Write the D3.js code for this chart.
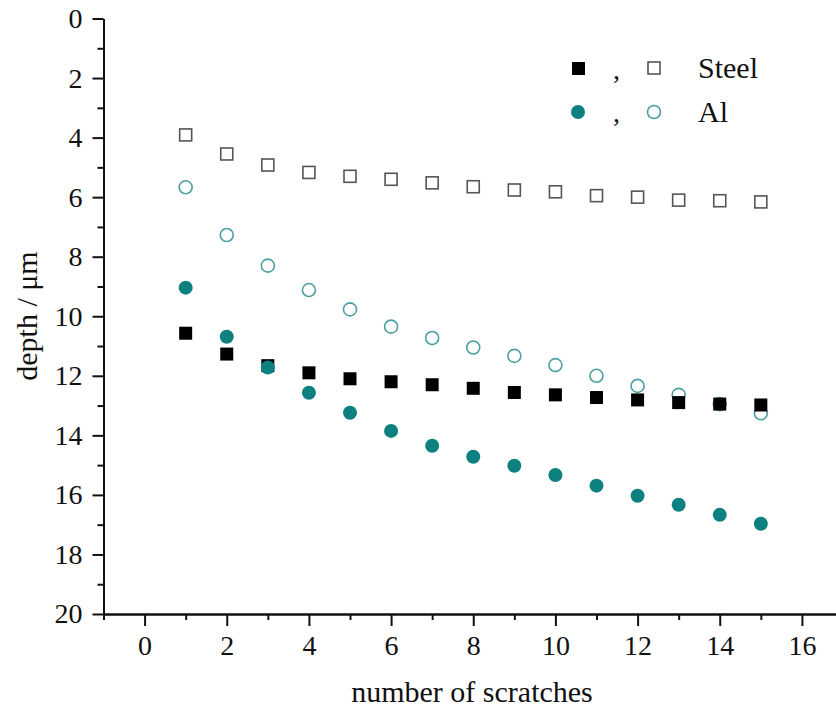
<!DOCTYPE html>
<html>
<head>
<meta charset="utf-8">
<title>depth vs number of scratches</title>
<script src="https://d3js.org/d3.v7.min.js"></script>
<style>
  body { margin: 0; background: #fff; }
</style>
</head>
<body>
<div id="home"></div>
<script>
// data
const scratches = [1, 2, 3, 4, 5, 6, 7, 8, 9, 10, 11, 12, 13, 14, 15];
const steelOpen = [3.91, 4.55, 4.92, 5.17, 5.30, 5.40, 5.52, 5.65, 5.76, 5.82, 5.95, 6.00, 6.10, 6.12, 6.16];
const steelFilled = [10.57, 11.27, 11.66, 11.90, 12.10, 12.20, 12.30, 12.42, 12.56, 12.64, 12.73, 12.81, 12.90, 12.95, 12.98];
const alOpen = [5.67, 7.27, 8.30, 9.12, 9.77, 10.35, 10.73, 11.05, 11.33, 11.64, 12.00, 12.34, 12.64, 12.95, 13.26];
const alFilled = [9.04, 10.69, 11.72, 12.57, 13.24, 13.85, 14.35, 14.72, 15.02, 15.33, 15.69, 16.03, 16.33, 16.67, 16.97];
const xMajor = [0, 2, 4, 6, 8, 10, 12, 14, 16];
const xMinor = [-1, 1, 3, 5, 7, 9, 11, 13, 15, 17];
const yMajor = [0, 2, 4, 6, 8, 10, 12, 14, 16, 18, 20];
const yMinor = [1, 3, 5, 7, 9, 11, 13, 15, 17, 19];

const w = 836, h = 711;
const teal = "#0f8080";
const tealLight = "#4e9f9f";
const serif = "'Liberation Serif', 'Times New Roman', Times, serif";

const svg = d3.select("#home").append("svg")
  .attr("width", w).attr("height", h)
  .attr("font-family", serif);

const x = d3.scaleLinear().domain([-1, 17]).range([103.5, 843]);
const y = d3.scaleLinear().domain([0, 20]).range([18.5, 614]);

// axes
function styleAxis(g) {
  g.attr("font-family", serif).attr("font-size", 28);
  g.select(".domain").attr("stroke", "#111").attr("stroke-width", 2);
  g.selectAll(".tick line").attr("stroke", "#111").attr("stroke-width", 2);
  g.selectAll(".tick text").attr("fill", "#111");
}

svg.append("g")
  .attr("transform", "translate(0,614)")
  .call(d3.axisBottom(x).tickValues(xMinor).tickSize(6).tickSizeOuter(0).tickFormat(""))
  .call(styleAxis);
svg.append("g")
  .attr("transform", "translate(0,614)")
  .call(d3.axisBottom(x).tickValues(xMajor).tickSize(12).tickSizeOuter(0).tickPadding(9))
  .call(styleAxis);

svg.append("g")
  .attr("transform", "translate(103.5,0)")
  .call(d3.axisLeft(y).tickValues(yMinor).tickSize(6).tickSizeOuter(0).tickFormat(""))
  .call(styleAxis);
svg.append("g")
  .attr("transform", "translate(103.5,0)")
  .call(d3.axisLeft(y).tickValues(yMajor).tickSize(11).tickSizeOuter(0).tickPadding(10))
  .call(styleAxis);

// axis titles
svg.append("text")
  .attr("x", 472).attr("y", 702)
  .attr("text-anchor", "middle")
  .attr("font-size", 30).attr("fill", "#111")
  .text("number of scratches");

svg.append("text")
  .attr("transform", "translate(37,316) rotate(-90)")
  .attr("text-anchor", "middle")
  .attr("font-size", 30).attr("fill", "#111")
  .text("depth / μm");

// points
const sq = 13, r = 7;

svg.append("g").selectAll("rect")
  .data(scratches.map((s, i) => [s, steelOpen[i]]))
  .join("rect")
  .attr("x", d => x(d[0]) - 6).attr("y", d => y(d[1]) - 6)
  .attr("width", 12).attr("height", 12)
  .attr("fill", "none").attr("stroke", "#555").attr("stroke-width", 1.6);

svg.append("g").selectAll("circle")
  .data(scratches.map((s, i) => [s, alOpen[i]]))
  .join("circle")
  .attr("cx", d => x(d[0])).attr("cy", d => y(d[1])).attr("r", 6.5)
  .attr("fill", "none").attr("stroke", tealLight).attr("stroke-width", 1.6);

svg.append("g").selectAll("rect")
  .data(scratches.map((s, i) => [s, steelFilled[i]]))
  .join("rect")
  .attr("x", d => x(d[0]) - sq / 2).attr("y", d => y(d[1]) - sq / 2)
  .attr("width", sq).attr("height", sq)
  .attr("fill", "#000");

svg.append("g").selectAll("circle")
  .data(scratches.map((s, i) => [s, alFilled[i]]))
  .join("circle")
  .attr("cx", d => x(d[0])).attr("cy", d => y(d[1])).attr("r", r)
  .attr("fill", teal);

// legend
const leg = svg.append("g").attr("fill", "#111");
leg.append("rect").attr("x", 572).attr("y", 62).attr("width", 13).attr("height", 13).attr("fill", "#000");
leg.append("text").attr("x", 613).attr("y", 79).attr("font-size", 28).text(",");
leg.append("rect").attr("x", 648).attr("y", 62).attr("width", 12).attr("height", 12)
  .attr("fill", "none").attr("stroke", "#555").attr("stroke-width", 1.6);
leg.append("text").attr("x", 698).attr("y", 78).attr("font-size", 30).text("Steel");

leg.append("circle").attr("cx", 578).attr("cy", 112).attr("r", r).attr("fill", teal);
leg.append("text").attr("x", 613).attr("y", 122).attr("font-size", 28).text(",");
leg.append("circle").attr("cx", 654).attr("cy", 112).attr("r", 6.5)
  .attr("fill", "none").attr("stroke", tealLight).attr("stroke-width", 1.6);
leg.append("text").attr("x", 698).attr("y", 122).attr("font-size", 30).text("Al");
</script>
</body>
</html>
